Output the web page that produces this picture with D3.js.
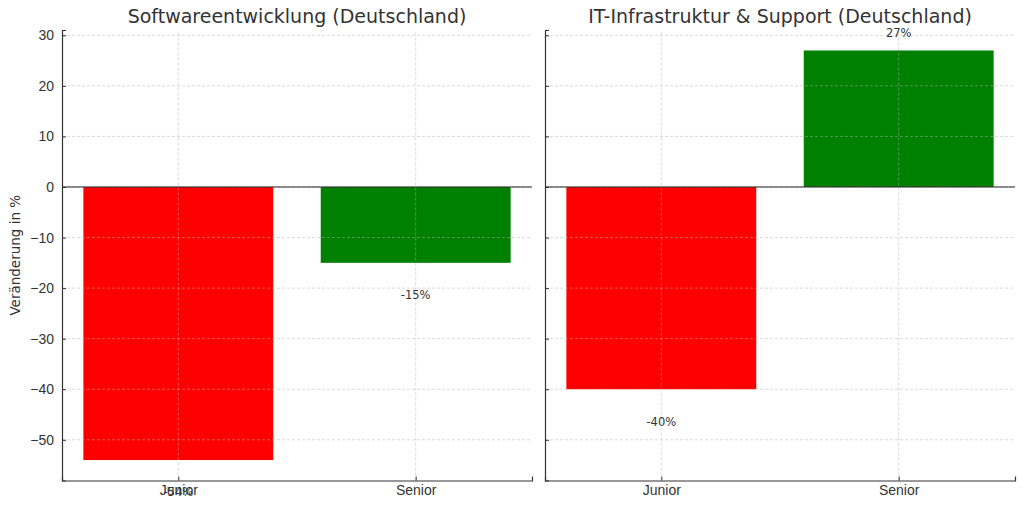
<!DOCTYPE html>
<html>
<head>
<meta charset="utf-8">
<script src="https://cdn.jsdelivr.net/npm/d3@7"></script>
<style>
  body { margin: 0; background: #fff; }
  svg { display: block; font-family: "DejaVu Sans", sans-serif; }
</style>
</head>
<body>
<script>
// data
const categories = ["Junior", "Senior"];
const panelTitles = ["Softwareentwicklung (Deutschland)", "IT-Infrastruktur & Support (Deutschland)"];
const softwareValues = [-54, -15];
const infraValues = [-40, 27];
const barColors = ["red", "green"];
const yTicks = [-50, -40, -30, -20, -10, 0, 10, 20, 30];

const width = 1024, height = 508;
const textColor = "#333";
const fontFamily = "DejaVu Sans, sans-serif";

const svg = d3.select("body").append("svg")
  .attr("width", width)
  .attr("height", height);

// shared y scale (matplotlib-style 5% margins)
const allVals = softwareValues.concat(infraValues);
const yMin = d3.min(allVals), yMax = d3.max(allVals);
const pad = (yMax - yMin) * 0.05;
const y = d3.scaleLinear()
  .domain([yMin - pad, yMax + pad])
  .range([480.5, 30]);

const panels = [
  { title: panelTitles[0], values: softwareValues, left: 62, right: 532, showY: true },
  { title: panelTitles[1], values: infraValues, left: 545, right: 1015, showY: false },
];

panels.forEach(p => {
  const g = svg.append("g");

  // bar centers at 0,1 with width 0.8, plus 5% margins
  const x = d3.scaleLinear()
    .domain([-0.4 - 0.09, 1.4 + 0.09])
    .range([p.left, p.right]);

  // bars
  g.selectAll("rect.bar")
    .data(p.values)
    .join("rect")
    .attr("class", "bar")
    .attr("x", (d, i) => x(i - 0.4))
    .attr("width", (d, i) => x(i + 0.4) - x(i - 0.4))
    .attr("y", d => y(Math.max(0, d)))
    .attr("height", d => Math.abs(y(d) - y(0)))
    .attr("fill", (d, i) => barColors[i]);

  // grid
  g.selectAll("line.hgrid")
    .data(yTicks)
    .join("line")
    .attr("class", "hgrid")
    .attr("x1", p.left).attr("x2", p.right)
    .attr("y1", d => y(d)).attr("y2", d => y(d))
    .attr("stroke", "#b0b0b0")
    .attr("stroke-opacity", 0.6)
    .attr("stroke-width", 0.8)
    .attr("stroke-dasharray", "3,2");

  g.selectAll("line.vgrid")
    .data(categories)
    .join("line")
    .attr("class", "vgrid")
    .attr("x1", (d, i) => x(i)).attr("x2", (d, i) => x(i))
    .attr("y1", y.range()[0]).attr("y2", y.range()[1])
    .attr("stroke", "#b0b0b0")
    .attr("stroke-opacity", 0.6)
    .attr("stroke-width", 0.8)
    .attr("stroke-dasharray", "3,2");

  // zero line
  g.append("line")
    .attr("x1", p.left).attr("x2", p.right)
    .attr("y1", y(0)).attr("y2", y(0))
    .attr("stroke", "#222")
    .attr("stroke-width", 1);

  // y axis (ticks pointing inwards)
  const yAxis = g.append("g")
    .attr("transform", `translate(${p.left},0)`)
    .attr("font-family", fontFamily)
    .call(d3.axisLeft(y).tickValues(yTicks).tickSize(-4).tickPadding(8)
      .tickFormat(p.showY ? d3.format("d") : ""));
  yAxis.select(".domain").attr("stroke", "#333").attr("stroke-width", 1.2);
  yAxis.selectAll(".tick line").attr("stroke", "#333");
  yAxis.selectAll(".tick text").attr("fill", textColor).style("font-size", "14px");

  // x axis
  const xAxis = g.append("g")
    .attr("transform", `translate(0,${y.range()[0]})`)
    .attr("font-family", fontFamily)
    .call(d3.axisBottom(x).tickValues([0, 1]).tickSize(-4).tickPadding(5)
      .tickFormat(i => categories[i]));
  xAxis.select(".domain").attr("stroke", "#333").attr("stroke-width", 1.2);
  xAxis.selectAll(".tick line").attr("stroke", "#333");
  xAxis.selectAll(".tick text").attr("fill", textColor).style("font-size", "14px");

  // value labels (overlap with "Junior" in the left panel is as in the original)
  g.selectAll("text.val")
    .data(p.values)
    .join("text")
    .attr("class", "val")
    .attr("x", (d, i) => x(i))
    .attr("y", d => d >= 0 ? y(d + 2) - 3 : y(d - 5) + 11)
    .attr("text-anchor", "middle")
    .attr("fill", textColor)
    .style("font-size", "11.5px")
    .text(d => d + "%");

  // title
  svg.append("text")
    .attr("x", (p.left + p.right) / 2)
    .attr("y", 23)
    .attr("text-anchor", "middle")
    .attr("fill", textColor)
    .style("font-size", "19px")
    .text(p.title);
});

// y label
svg.append("text")
  .attr("transform", `translate(20,${(y.range()[0] + y.range()[1]) / 2}) rotate(-90)`)
  .attr("text-anchor", "middle")
  .attr("fill", textColor)
  .style("font-size", "13.5px")
  .text("Veränderung in %");
</script>
</body>
</html>
